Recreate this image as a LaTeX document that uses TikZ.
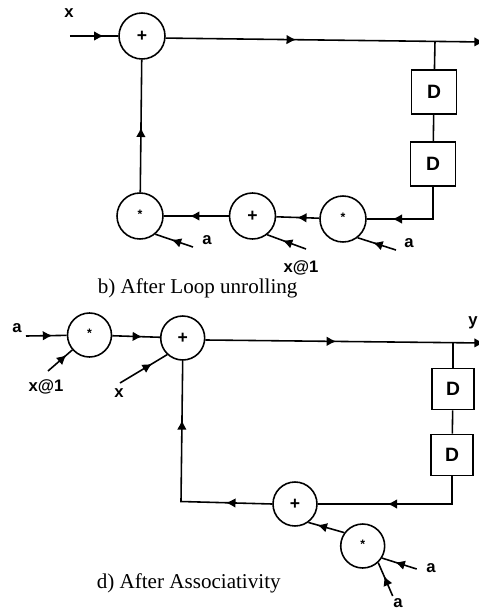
\documentclass[tikz,border=0pt]{standalone}
\usepackage{fontspec}
\setmainfont{Liberation Serif}
\setsansfont{Liberation Sans}
\usetikzlibrary{decorations.markings, arrows.meta}

\begin{document}
\begin{tikzpicture}[x=0.02cm, y=-0.02cm, line width=0.9pt]
        \tikzset{ opr/.style  ={draw, circle, inner sep=0pt, minimum size=0.92cm, font=\sffamily\bfseries\fontsize{10}{10}\selectfont} }
        \tikzset{ dly/.style  ={draw, inner sep=0pt, minimum width=0.9cm, minimum height=0.88cm, font=\sffamily\bfseries\fontsize{11}{11}\selectfont} }
        \tikzset{ lbl/.style  ={inner sep=0pt, font=\sffamily\bfseries\fontsize{9.5}{10}\selectfont} }
        \tikzset{ ttl/.style  ={inner sep=0pt, anchor=base west, font=\rmfamily\fontsize{12}{14}\selectfont} }
        \tikzset{ arw/.style  ={postaction={decorate, decoration={markings, mark=at position #1 with {\arrow{Latex[length=5.5pt,width=5.5pt]}}}}} }
        \newcommand{\mulsign}{\raisebox{-0.16em}[0pt][0pt]{\fontsize{7}{7}\selectfont *}}

        \useasboundingbox (0,0) rectangle (479,610);

        % b) after loop unrolling
        \node[opr] (b_add1) at (142  , 36 ) {+};
        \node[opr] (b_mul1) at (140  , 216) {\mulsign};
        \node[opr] (b_add2) at (252.5, 216) {+};
        \node[opr] (b_mul2) at (343  , 219) {\mulsign};
        \node[dly] (b_d1)   at (434  , 92 ) {D};
        \node[dly] (b_d2)   at (433  , 164) {D};

        \node[lbl] (b_lx)   at (69 , 13 ) {x};
        \node[lbl] (b_la1)  at (207, 240) {a};
        \node[lbl] (b_lx1)  at (301, 268) {x@1};
        \node[lbl] (b_la2)  at (409, 243) {a};
        \node[ttl] (b_ttl)  at (97 , 293) {b) After Loop unrolling};

        \coordinate (b_xin)  at (70 , 36 );
        \coordinate (b_out)  at (484, 42 );
        \coordinate (b_jn)   at (435, 41.4);
        \coordinate (b_ia1)  at (193, 247);
        \coordinate (b_ix1)  at (306, 249);
        \coordinate (b_ia2)  at (396, 250);

        \draw[arw=0.7] (b_xin) -- (b_add1);
        \draw[arw=0.41, -{Latex[length=5.5pt,width=5.5pt]}] (b_add1.-5) -- (b_out);
        \draw (b_jn) -- (b_d1);
        \draw (b_d1) -- (b_d2);
        \draw[arw=0.74] (b_d2.south) |- (b_mul2.east);
        \draw[arw=0.52] (b_mul2) -- (b_add2);
        \draw[arw=0.6]  (b_add2) -- (b_mul1);
        \draw[arw=0.49] (b_mul1) -- (b_add1);
        \draw[arw=0.57] (b_ia1) -- (b_mul1.-50);
        \draw[arw=0.6]  (b_ix1) -- (b_add2.-52);
        \draw[arw=0.6]  (b_ia2) -- (b_mul2.-52);

        % d) after associativity
        \node[opr, minimum size=0.88cm] (d_mul1) at (89.5, 335) {\mulsign};
        \node[opr, minimum size=0.88cm] (d_add1) at (182.7, 338) {+};
        \node[opr, minimum size=0.88cm] (d_add2) at (295 , 504) {+};
        \node[opr, minimum size=0.88cm] (d_mul2) at (362.7, 546) {\mulsign};
        \node[dly, minimum width=0.84cm, minimum height=0.82cm] (d_d1) at (453, 389) {D};
        \node[dly, minimum width=0.84cm, minimum height=0.82cm] (d_d2) at (452, 455) {D};

        \node[lbl] (d_la0) at (17 , 328) {a};
        \node[lbl] (d_lx1) at (46 , 387) {x@1};
        \node[lbl] (d_lx)  at (119, 393) {x};
        \node[lbl] (d_ly)  at (473, 323) {y};
        \node[lbl] (d_la1) at (431, 568) {a};
        \node[lbl] (d_la2) at (398, 603) {a};
        \node[ttl] (d_ttl) at (96 , 588) {d) After Associativity};

        \coordinate (d_ia0)  at (26 , 336);
        \coordinate (d_ix1)  at (48 , 371);
        \coordinate (d_ix)   at (120, 383);
        \coordinate (d_out)  at (484, 343);
        \coordinate (d_jn)   at (453, 342.6);
        \coordinate (d_cr)   at (181, 501.5);
        \coordinate (d_ia1)  at (416.7, 569);
        \coordinate (d_ia2)  at (392.7, 596);

        \draw[arw=0.65] (d_ia0) -- (d_mul1);
        \draw[arw=0.76] (d_ix1) -- (d_mul1.221);
        \draw[arw=0.63] (d_mul1) -- (d_add1);
        \draw[arw=0.68] (d_ix) -- (d_add1.227);
        \draw[arw=0.47, -{Latex[length=5.5pt,width=5.5pt]}] (d_add1.-5) -- (d_out);
        \draw (d_jn) -- (d_d1);
        \draw (d_d1) -- (d_d2);
        \draw[arw=0.57] (d_d2.south) |- (d_add2.east);
        \draw[arw=0.2, arw=0.745] (d_add2.west) -- (d_cr) -- (d_add1.south);
        \draw[arw=0.75] (d_mul2.144) -- (d_add2.-54);
        \draw[arw=0.62] (d_ia1) -- (d_mul2.-32);
        \draw[arw=0.6]  (d_ia2) -- (d_mul2.-47);
      \end{tikzpicture}
\end{document}
